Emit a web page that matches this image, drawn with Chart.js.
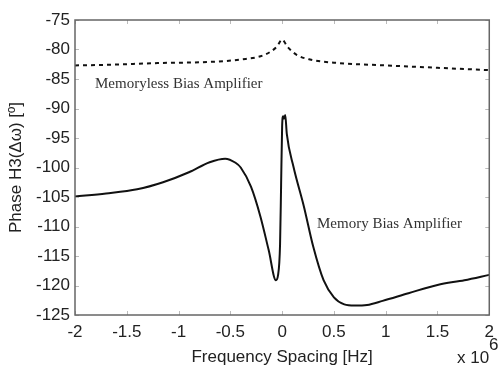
<!DOCTYPE html>
<html>
<head>
    <title>Phase H3</title>
    <script src="https://cdn.jsdelivr.net/npm/chart.js"></script>
    <style>
  body {
    margin: 0;
    padding: 0;
    background-color: #ffffff;
}

canvas {
    display: block;
}
</style>
</head>
<body>

    <canvas id="phaseChart" width="501" height="371"></canvas>

    <script>
        // x in units of 1e6 Hz
        const memoryX = [-2, -1.7, -1.4, -1.15, -0.9, -0.7, -0.55, -0.45, -0.4, -0.3, -0.21, -0.13, -0.06, -0.04, -0.02, -0.01, 0, 0.01, 0.02, 0.03, 0.045, 0.11, 0.21, 0.3, 0.4, 0.5, 0.6, 0.7, 0.82, 0.97, 1.22, 1.5, 1.76, 2];
        const memoryY = [-104.9, -104.4, -103.7, -102.5, -100.8, -99.1, -98.5, -99.2, -100.0, -103.3, -108.3, -114.0, -119.1, -118.3, -113.0, -103.0, -93.0, -91.3, -91.7, -91.1, -94.3, -99.9, -106.6, -113.4, -119.1, -122.0, -123.2, -123.4, -123.3, -122.6, -121.3, -119.9, -119.1, -118.2];

        const memorylessX = [-2, -1.7, -1.2, -0.7, -0.4, -0.17, -0.05, 0, 0.05, 0.14, 0.27, 0.55, 1.0, 1.5, 2];
        const memorylessY = [-82.7, -82.6, -82.3, -82.1, -81.7, -80.9, -79.5, -78.3, -79.5, -80.9, -81.7, -82.3, -82.7, -83.1, -83.5];

        const xTicks = [-2, -1.5, -1, -0.5, 0, 0.5, 1, 1.5, 2];
        const yTicks = [-125, -120, -115, -110, -105, -100, -95, -90, -85, -80, -75];

        const sansFont = "'Liberation Sans', Arial, sans-serif";
        const serifFont = "'Liberation Serif', 'Times New Roman', serif";

        function toPoints(xs, ys) {
            return xs.map((x, i) => ({ x: x, y: ys[i] }));
        }

        // frame, inward ticks and the text labels (matlab look)
        const matlabFrame = {
            id: 'matlabFrame',
            afterDraw(chart) {
                const ctx = chart.ctx;
                const area = chart.chartArea;
                const xs = chart.scales.x;
                const ys = chart.scales.y;
                ctx.save();

                // small inward ticks
                ctx.strokeStyle = '#bbbbbb';
                ctx.lineWidth = 1;
                ctx.beginPath();
                xTicks.forEach(v => {
                    const px = Math.round(xs.getPixelForValue(v)) + 0.5;
                    ctx.moveTo(px, area.bottom); ctx.lineTo(px, area.bottom - 4);
                    ctx.moveTo(px, area.top); ctx.lineTo(px, area.top + 4);
                });
                yTicks.forEach(v => {
                    const py = Math.round(ys.getPixelForValue(v)) + 0.5;
                    ctx.moveTo(area.left, py); ctx.lineTo(area.left + 4, py);
                    ctx.moveTo(area.right, py); ctx.lineTo(area.right - 4, py);
                });
                ctx.stroke();

                // box
                ctx.strokeStyle = '#666666';
                ctx.lineWidth = 1.5;
                ctx.strokeRect(area.left, area.top, area.right - area.left, area.bottom - area.top);

                // axis titles
                ctx.fillStyle = '#222222';
                ctx.font = '17px ' + sansFont;
                ctx.textAlign = 'center';
                ctx.textBaseline = 'middle';
                ctx.fillText('Frequency Spacing [Hz]', (area.left + area.right) / 2, 357);

                ctx.textAlign = 'left';
                ctx.fillText('x 10', 457, 358);
                ctx.fillText('6', 489, 345);

                ctx.save();
                ctx.translate(16, (area.top + area.bottom) / 2);
                ctx.rotate(-Math.PI / 2);
                ctx.textAlign = 'center';
                ctx.fillText('Phase H3(\u0394\u03c9) [\u00ba]', 0, 0);
                ctx.restore();

                // curve labels
                ctx.font = '15px ' + serifFont;
                ctx.textAlign = 'left';
                ctx.fillStyle = '#333333';
                ctx.fillText('Memoryless Bias Amplifier', 95, 84);
                ctx.fillText('Memory Bias Amplifier', 317, 224);

                ctx.restore();
            }
        };

        const plainLabel = v => String(Math.round(v * 10) / 10);

        new Chart(document.getElementById('phaseChart'), {
            type: 'line',
            data: {
                datasets: [
                    {
                        label: 'Memoryless Bias Amplifier',
                        data: toPoints(memorylessX, memorylessY),
                        borderColor: '#111111',
                        borderWidth: 2,
                        borderDash: [4, 4],
                        pointRadius: 0,
                        fill: false,
                        cubicInterpolationMode: 'monotone'
                    },
                    {
                        label: 'Memory Bias Amplifier',
                        data: toPoints(memoryX, memoryY),
                        borderColor: '#111111',
                        borderWidth: 2,
                        pointRadius: 0,
                        fill: false,
                        cubicInterpolationMode: 'monotone'
                    }
                ]
            },
            options: {
                responsive: false,
                animation: false,
                devicePixelRatio: 1,
                layout: { padding: { top: 20, right: 6, left: 0, bottom: 0 } },
                plugins: {
                    legend: { display: false },
                    tooltip: { enabled: false }
                },
                scales: {
                    x: {
                        type: 'linear',
                        min: -2,
                        max: 2,
                        grid: { display: false, drawTicks: false },
                        border: { display: false },
                        ticks: {
                            stepSize: 0.5,
                            autoSkip: false,
                            maxRotation: 0,
                            padding: 7,
                            color: '#222222',
                            font: { family: sansFont, size: 17 },
                            callback: plainLabel
                        },
                        afterFit(scale) { scale.height = 56; }
                    },
                    y: {
                        min: -125,
                        max: -75,
                        grid: { display: false, drawTicks: false },
                        border: { display: false },
                        ticks: {
                            stepSize: 5,
                            padding: 5,
                            color: '#222222',
                            font: { family: sansFont, size: 17 },
                            callback: plainLabel
                        },
                        afterFit(scale) { scale.width = 75; }
                    }
                }
            },
            plugins: [matlabFrame]
        });
    </script>
</body>
</html>
